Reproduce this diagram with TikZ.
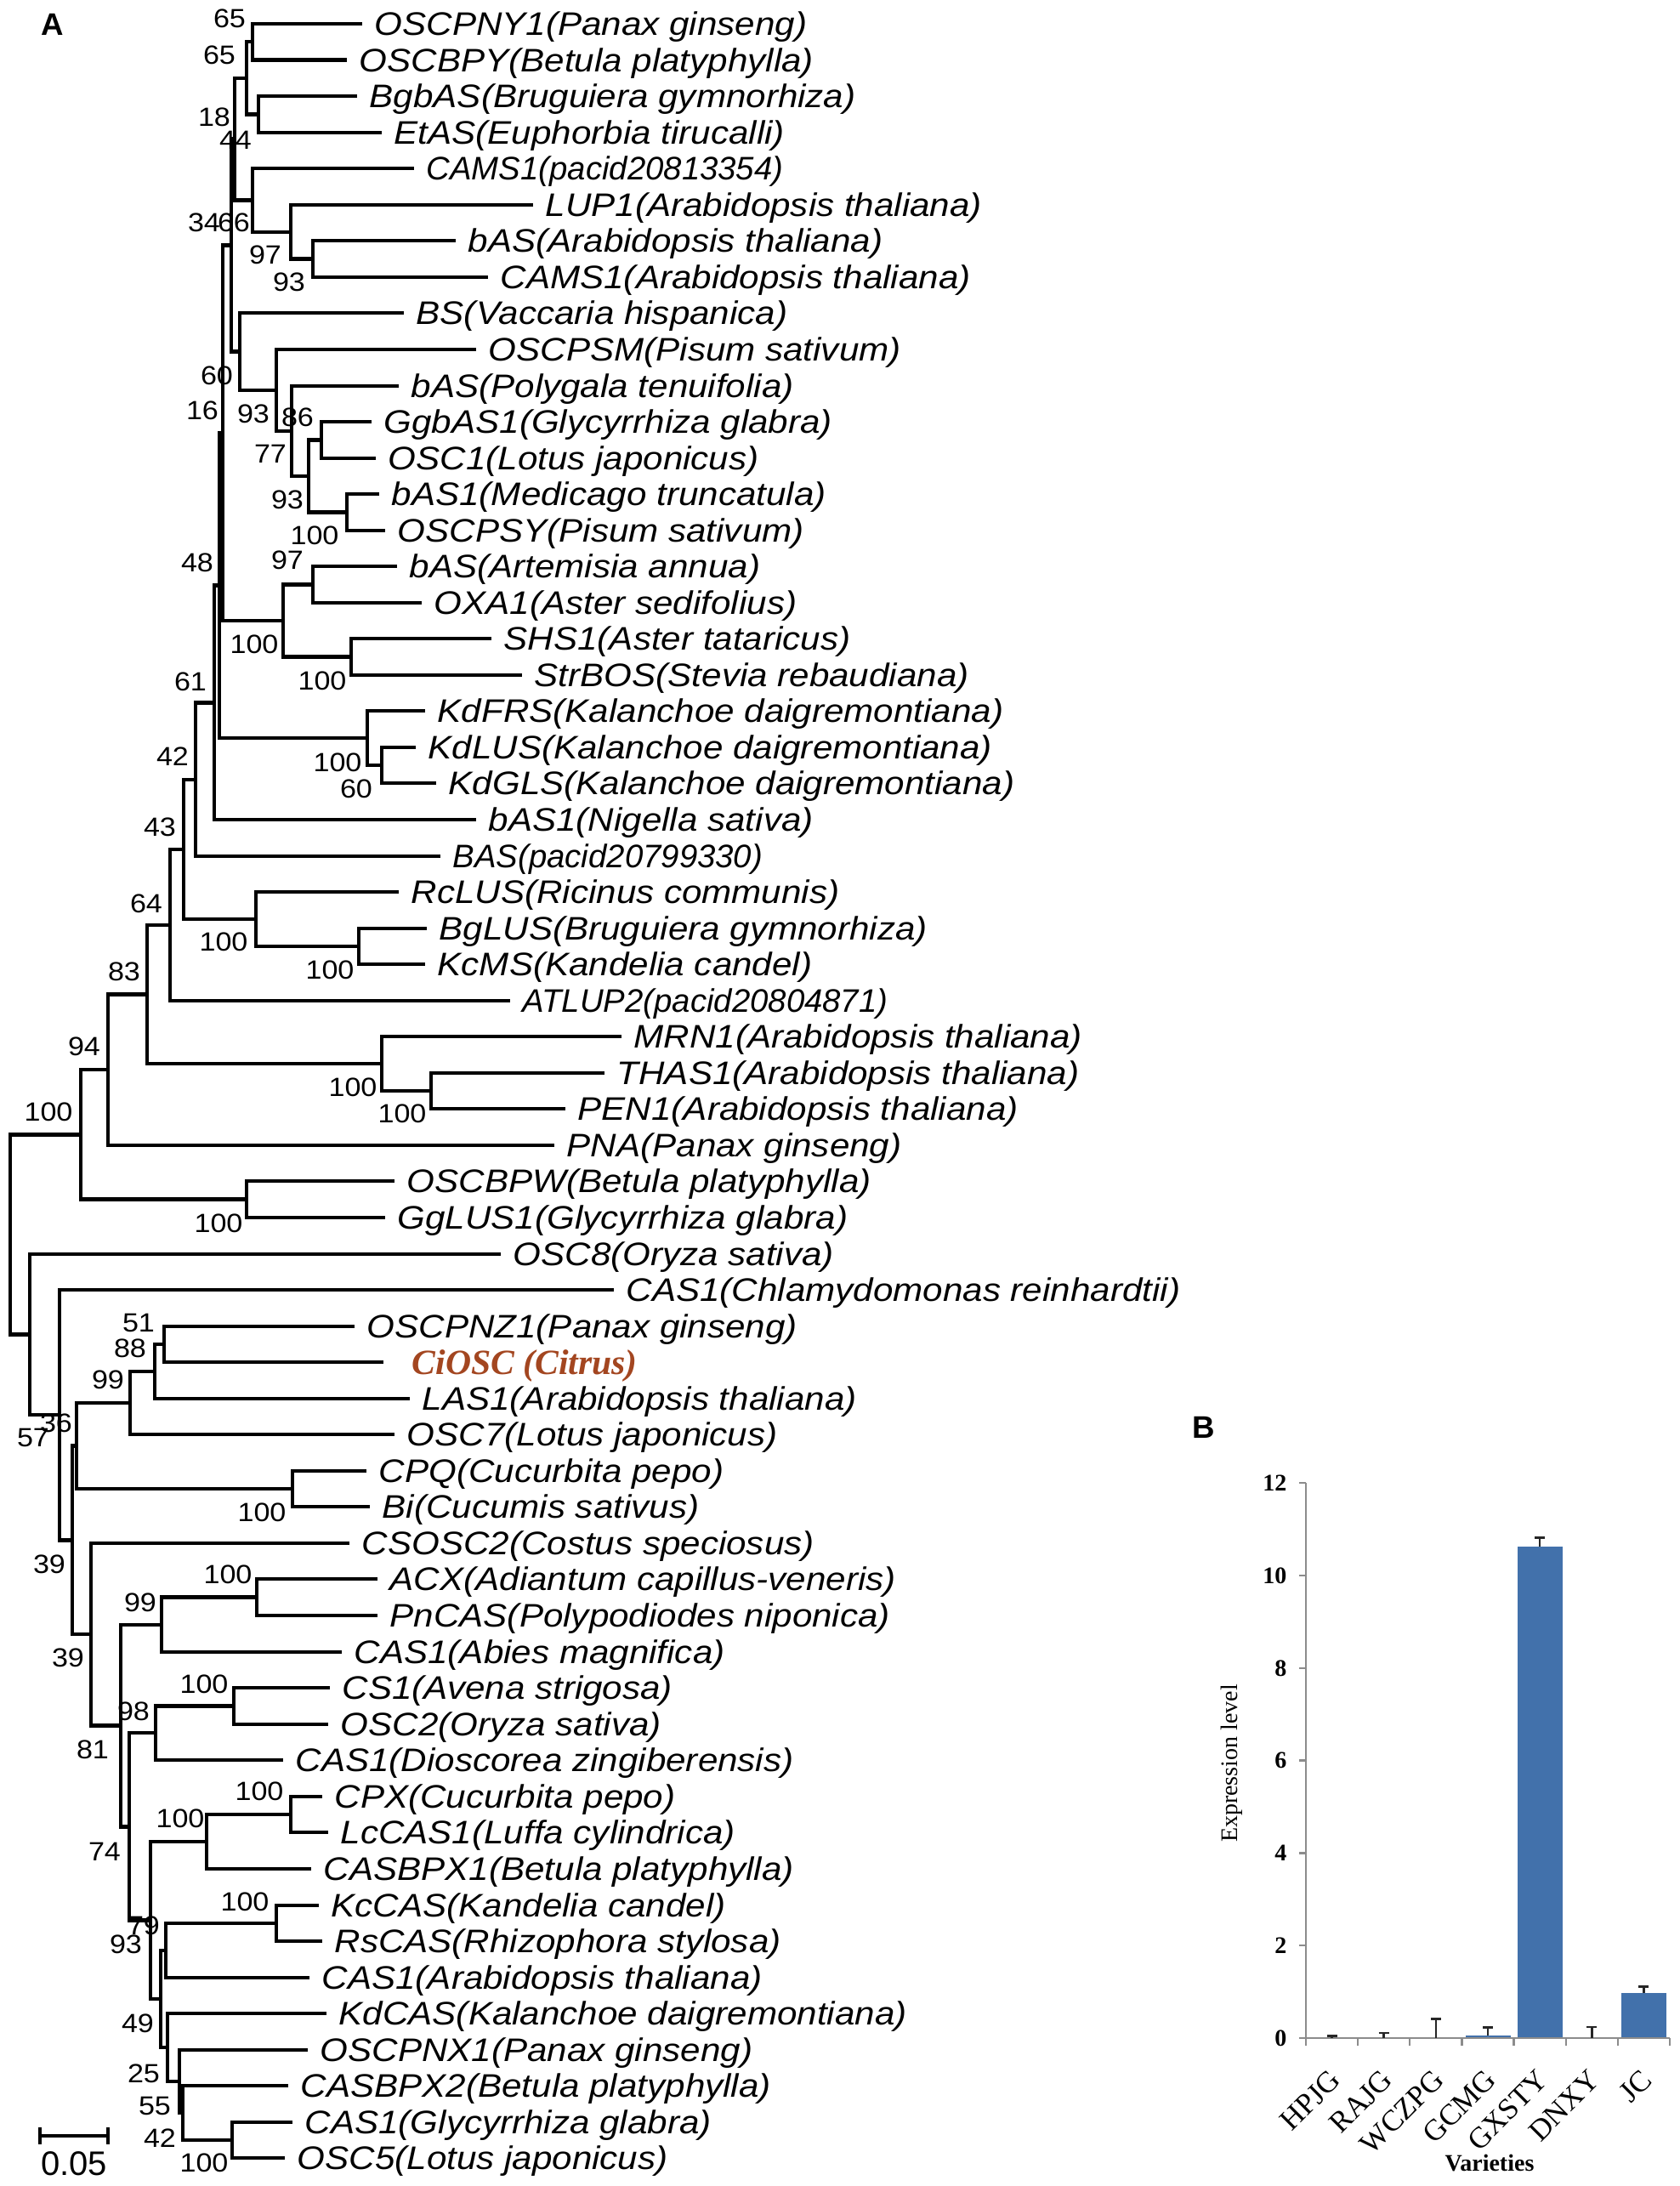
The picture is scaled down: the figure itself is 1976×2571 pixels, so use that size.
\documentclass[tikz,border=0pt]{standalone}
\usepackage{fontspec}
\setmainfont{Liberation Sans}
\newfontfamily\serifB{Liberation Serif}
\usetikzlibrary{calc}
\definecolor{citrus}{RGB}{163,70,32}
\definecolor{barblue}{RGB}{66,113,171}
\definecolor{axgray}{RGB}{140,140,140}
\tikzset{
  br/.style={line width=1.3pt, line join=miter},
  lf/.style={anchor=west, inner sep=0pt, xscale=1.1, font=\fontsize{11.5}{13}\selectfont\itshape, yshift=-1.2pt},
  bs/.style={inner sep=0pt, xscale=1.1, font=\fontsize{9.3}{10}\selectfont},
  panel/.style={inner sep=0pt, font=\fontsize{11}{12}\selectfont\bfseries},
  axl/.style={axgray, line width=0.7pt},
  ytick/.style={anchor=east, inner sep=0pt, font=\fontsize{8.4}{9}\selectfont\serifB\bfseries},
  xcat/.style={anchor=east, inner sep=0pt, rotate=45, font=\fontsize{10.5}{11}\selectfont\serifB},
  errb/.style={line width=0.8pt, black!85},
}
\newcommand\tnode[4]{%
  \coordinate (#1m) at ($(#3)!.5!(#4)$);
  \coordinate (#1) at (#2,0 |- #1m);
  \draw[br] (#3) -| (#1) |- (#4);
}
\newcommand\leaf[4]{%
  \coordinate (L#1) at (#2,#3);
  \node[lf] (T#1) at ($(L#1)+(14,0)$) {#4};
}
\newcommand\leafn[4]{%
  \coordinate (L#1) at (#2,#3);
  \node[lf, xscale=1/1.1] (T#1) at ($(L#1)+(14,0)$) {#4};
}
\newcommand\bsv[4]{\node[bs] (#1) at (#2,#3) {#4};}
\begin{document}
\begin{tikzpicture}[x=0.3pt,y=-0.3pt]
\useasboundingbox (0,0) rectangle (1976,2571);
% ---------------- leaves
\leaf{1}{426}{28}{OSCPNY1(Panax ginseng)}
\leaf{2}{408}{70.5}{OSCBPY(Betula platyphylla)}
\leaf{3}{420}{113}{BgbAS(Bruguiera gymnorhiza)}
\leaf{4}{449}{156}{EtAS(Euphorbia tirucalli)}
\leafn{5}{487}{198}{CAMS1(pacid20813354)}
\leaf{6}{627}{241}{LUP1(Arabidopsis thaliana)}
\leaf{7}{536}{283}{bAS(Arabidopsis thaliana)}
\leaf{8}{574}{326}{CAMS1(Arabidopsis thaliana)}
\leaf{9}{475}{368}{BS(Vaccaria hispanica)}
\leaf{10}{560}{411}{OSCPSM(Pisum sativum)}
\leaf{11}{469}{454}{bAS(Polygala tenuifolia)}
\leaf{12}{437}{496}{GgbAS1(Glycyrrhiza glabra)}
\leaf{13}{442}{539}{OSC1(Lotus japonicus)}
\leaf{14}{446}{581}{bAS1(Medicago truncatula)}
\leaf{15}{453}{624}{OSCPSY(Pisum sativum)}
\leaf{16}{467}{666}{bAS(Artemisia annua)}
\leaf{17}{496}{709}{OXA1(Aster sedifolius)}
\leaf{18}{578}{751}{SHS1(Aster tataricus)}
\leaf{19}{614}{794}{StrBOS(Stevia rebaudiana)}
\leaf{20}{500}{836}{KdFRS(Kalanchoe daigremontiana)}
\leaf{21}{489}{879}{KdLUS(Kalanchoe daigremontiana)}
\leaf{22}{513}{921}{KdGLS(Kalanchoe daigremontiana)}
\leaf{23}{560}{964}{bAS1(Nigella sativa)}
\leafn{24}{518}{1007}{BAS(pacid20799330)}
\leaf{25}{469}{1049}{RcLUS(Ricinus communis)}
\leaf{26}{502}{1092}{BgLUS(Bruguiera gymnorhiza)}
\leaf{27}{500}{1134}{KcMS(Kandelia candel)}
\leafn{28}{600}{1177}{ATLUP2(pacid20804871)}
\leaf{29}{731}{1219}{MRN1(Arabidopsis thaliana)}
\leaf{30}{711}{1262}{THAS1(Arabidopsis thaliana)}
\leaf{31}{665}{1304}{PEN1(Arabidopsis thaliana)}
\leaf{32}{652}{1347}{PNA(Panax ginseng)}
\leaf{33}{464}{1389}{OSCBPW(Betula platyphylla)}
\leaf{34}{453}{1432}{GgLUS1(Glycyrrhiza glabra)}
\leaf{35}{589}{1475}{OSC8(Oryza sativa)}
\leaf{36}{722}{1517}{CAS1(Chlamydomonas reinhardtii)}
\leaf{37}{417}{1560}{OSCPNZ1(Panax ginseng)}
\coordinate (L38) at (451,1602);
\node[lf, xscale=1/1.1, font=\fontsize{12.5}{14}\selectfont\serifB\bfseries\itshape, text=citrus] (T38) at ($(L38)+(33,0)$) {CiOSC (Citrus)};
\leaf{39}{482}{1645}{LAS1(Arabidopsis thaliana)}
\leaf{40}{464}{1687}{OSC7(Lotus japonicus)}
\leaf{41}{431}{1730}{CPQ(Cucurbita pepo)}
\leaf{42}{435}{1772}{Bi(Cucumis sativus)}
\leaf{43}{411}{1815}{CSOSC2(Costus speciosus)}
\leaf{44}{444}{1857}{ACX(Adiantum capillus-veneris)}
\leaf{45}{444}{1900}{PnCAS(Polypodiodes niponica)}
\leaf{46}{402}{1943}{CAS1(Abies magnifica)}
\leaf{47}{388}{1985}{CS1(Avena strigosa)}
\leaf{48}{386}{2028}{OSC2(Oryza sativa)}
\leaf{49}{333}{2070}{CAS1(Dioscorea zingiberensis)}
\leaf{50}{379}{2113}{CPX(Cucurbita pepo)}
\leaf{51}{386}{2155}{LcCAS1(Luffa cylindrica)}
\leaf{52}{366}{2198}{CASBPX1(Betula platyphylla)}
\leaf{53}{375}{2241}{KcCAS(Kandelia candel)}
\leaf{54}{379}{2283}{RsCAS(Rhizophora stylosa)}
\leaf{55}{364}{2326}{CAS1(Arabidopsis thaliana)}
\leaf{56}{384}{2368}{KdCAS(Kalanchoe daigremontiana)}
\leaf{57}{362}{2411}{OSCPNX1(Panax ginseng)}
\leaf{58}{339}{2453}{CASBPX2(Betula platyphylla)}
\leaf{59}{344}{2496}{CAS1(Glycyrrhiza glabra)}
\leaf{60}{335}{2538}{OSC5(Lotus japonicus)}
% ---------------- internal nodes
\tnode{a12}{297}{L1}{L2}
\tnode{a34}{304}{L3}{L4}
\tnode{aC}{290}{a12}{a34}
\tnode{a78}{368}{L7}{L8}
\tnode{a678}{342}{L6}{a78}
\tnode{aE}{297}{L5}{a678}
\tnode{aD}{276}{aC}{aE}
\tnode{b1213}{378}{L12}{L13}
\tnode{b1415}{408}{L14}{L15}
\tnode{b1215}{363}{b1213}{b1415}
\tnode{b1115}{343}{L11}{b1215}
\tnode{b1015}{325}{L10}{b1115}
\tnode{aG}{282}{L9}{b1015}
\tnode{aF}{272}{aD}{aG}
\tnode{c1617}{368}{L16}{L17}
\tnode{c1819}{413}{L18}{L19}
\tnode{c1619}{333}{c1617}{c1819}
\tnode{aJ}{262}{aF}{c1619}
\tnode{d2122}{449}{L21}{L22}
\tnode{d2022}{432}{L20}{d2122}
\tnode{aK}{258}{aJ}{d2022}
\tnode{aL}{252}{aK}{L23}
\tnode{aM}{230}{aL}{L24}
\tnode{e2627}{422}{L26}{L27}
\tnode{e2527}{301}{L25}{e2627}
\tnode{aN}{216}{aM}{e2527}
\tnode{aO}{200}{aN}{L28}
\tnode{f3031}{507}{L30}{L31}
\tnode{f2931}{449}{L29}{f3031}
\tnode{aP}{173}{aO}{f2931}
\tnode{aQ}{127}{aP}{L32}
\tnode{g3334}{290}{L33}{L34}
\tnode{aR}{95}{aQ}{g3334}
\tnode{h3738}{193}{L37}{L38}
\tnode{h3739}{182}{h3738}{L39}
\tnode{h3740}{153}{h3739}{L40}
\tnode{h4142}{344}{L41}{L42}
\tnode{h3742}{90}{h3740}{h4142}
\tnode{i4445}{302}{L44}{L45}
\tnode{i4446}{190}{i4445}{L46}
\tnode{i4748}{275}{L47}{L48}
\tnode{i4749}{183}{i4748}{L49}
\tnode{j5051}{342}{L50}{L51}
\tnode{j5052}{243}{j5051}{L52}
\tnode{k5354}{325}{L53}{L54}
\tnode{k5355}{195}{k5354}{L55}
\tnode{k5960}{273}{L59}{L60}
\tnode{k5860}{215}{L58}{k5960}
\tnode{k5760}{211}{L57}{k5860}
\tnode{k5660}{197}{L56}{k5760}
\tnode{aZ}{189}{k5355}{k5660}
\tnode{aY}{177}{j5052}{aZ}
\tnode{aXX}{152}{i4749}{aY}
\tnode{aX}{142}{i4446}{aXX}
\tnode{aW}{107}{L43}{aX}
\tnode{aV}{85}{h3742}{aW}
\tnode{aU}{70}{L36}{aV}
\tnode{aT}{35}{L35}{aU}
\tnode{root}{12}{aR}{aT}
% ---------------- bootstrap values
\bsv{s1}{270}{22}{65}
\bsv{s2}{258}{65}{65}
\bsv{s3}{252}{138}{18}
\bsv{s4}{277}{165}{44}
\bsv{s5}{240}{262}{34}
\bsv{s6}{275}{262}{66}
\bsv{s7}{312}{300}{97}
\bsv{s8}{340}{332}{93}
\bsv{s9}{255}{442}{60}
\bsv{s10}{238}{483}{16}
\bsv{s11}{298}{487}{93}
\bsv{s12}{350}{491}{86}
\bsv{s13}{318}{534}{77}
\bsv{s14}{338}{588}{93}
\bsv{s15}{370}{630}{100}
\bsv{s16}{232}{662}{48}
\bsv{s17}{338}{659}{97}
\bsv{s18}{299}{758}{100}
\bsv{s19}{379}{801}{100}
\bsv{s20}{224}{802}{61}
\bsv{s21}{397}{897}{100}
\bsv{s22}{419}{928}{60}
\bsv{s23}{203}{890}{42}
\bsv{s24}{188}{973}{43}
\bsv{s25}{172}{1063}{64}
\bsv{s26}{263}{1108}{100}
\bsv{s27}{388}{1141}{100}
\bsv{s28}{146}{1143}{83}
\bsv{s29}{99}{1231}{94}
\bsv{s30}{415}{1279}{100}
\bsv{s31}{473}{1310}{100}
\bsv{s32}{57}{1308}{100}
\bsv{s33}{257}{1439}{100}
\bsv{s34}{163}{1556}{51}
\bsv{s35}{153}{1586}{88}
\bsv{s36}{127}{1623}{99}
\bsv{s37}{66}{1674}{36}
\bsv{s38}{39}{1691}{57}
\bsv{s39}{308}{1779}{100}
\bsv{s40}{58}{1840}{39}
\bsv{s41}{268}{1852}{100}
\bsv{s42}{165}{1885}{99}
\bsv{s43}{80}{1950}{39}
\bsv{s44}{240}{1981}{100}
\bsv{s45}{157}{2013}{98}
\bsv{s46}{109}{2058}{81}
\bsv{s47}{305}{2107}{100}
\bsv{s48}{212}{2139}{100}
\bsv{s49}{123}{2178}{74}
\bsv{s50}{288}{2237}{100}
\bsv{s51}{169}{2265}{79}
\bsv{s52}{148}{2287}{93}
\bsv{s53}{162}{2380}{49}
\bsv{s54}{169}{2439}{25}
\bsv{s55}{182}{2477}{55}
\bsv{s56}{188}{2515}{42}
\bsv{s57}{240}{2544}{100}
% ---------------- scale bar
\coordinate (sb1) at (47,2512);
\coordinate (sb2) at (127,2512);
\draw[line width=1.3pt] (sb1) -- (sb2);
\draw[line width=1.3pt] ($(sb1)+(0,-10)$) -- ($(sb1)+(0,10)$);
\draw[line width=1.3pt] ($(sb2)+(0,-10)$) -- ($(sb2)+(0,10)$);
\node[inner sep=0pt, font=\fontsize{12}{13}\selectfont] (sblab) at (87,2545) {0.05};
% ---------------- panel letters
\node[panel] (pA) at (62,29) {A};
\node[panel] (pB) at (1416,1679) {B};
% ---------------- bar chart
\fill[barblue] (1723.5,2394.3) rectangle (1776.5,2397);
\fill[barblue] (1784.6,1818.7) rectangle (1837.6,2397);
\fill[barblue] (1906.9,2344.2) rectangle (1959.9,2397);
\draw[axl] (1536,2397) -- (1536,1744.2);
\draw[axl] (1536,2397) -- (1964,2397);
\foreach \v in {0,2,...,12}{
  \draw[axl] (1528,{2397-54.4*\v}) -- (1536,{2397-54.4*\v});
  \node[ytick] (yt\v) at (1514,{2397-54.4*\v}) {\v};
}
\foreach \k in {0,...,7}{
  \draw[axl] ({1536+61.14*\k},2397) -- ({1536+61.14*\k},2406);
}
% error bars (centre, bar top, error top)
\foreach \cx/\yb/\ye in {1566.6/2397/2394.3, 1627.7/2397/2391, 1688.9/2397/2374.2, 1750/2394.3/2384.5, 1811.1/1818.7/1808.4, 1872.3/2397/2384, 1933.4/2344.2/2336.6}{
  \draw[errb] (\cx,\yb) -- (\cx,\ye);
  \draw[errb] ({\cx-6},\ye) -- ({\cx+6},\ye);
}
\node[xcat] (c1) at (1571,2440) {HPJG};
\node[xcat] (c2) at (1632,2440) {RAJG};
\node[xcat] (c3) at (1693,2440) {WCZPG};
\node[xcat] (c4) at (1754,2440) {GCMG};
\node[xcat] (c5) at (1815,2440) {GXSTY};
\node[xcat] (c6) at (1876,2440) {DNXY};
\node[xcat] (c7) at (1937,2440) {JC};
\node[inner sep=0pt, rotate=90, font=\fontsize{8.4}{9}\selectfont\serifB] (ylab) at (1449,2074) {Expression level};
\node[inner sep=0pt, font=\fontsize{8.4}{9}\selectfont\serifB\bfseries] (xlab) at (1752,2544) {Varieties};
\end{tikzpicture}
\end{document}
